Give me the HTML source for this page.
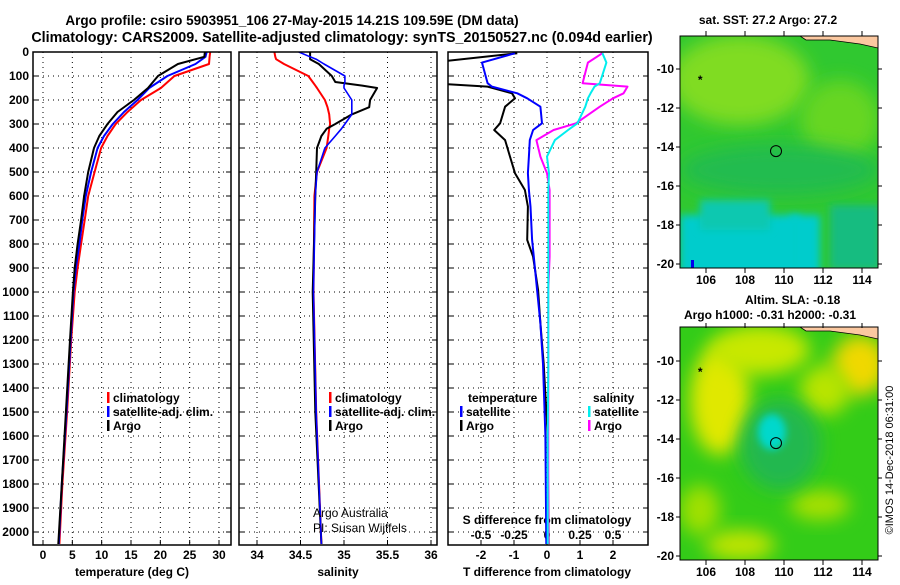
<!DOCTYPE html>
<html><head><meta charset="utf-8"><style>
body{margin:0;background:#fff;}
svg text{font-family:"Liberation Sans",sans-serif;font-weight:bold;font-size:12px;fill:#000;}
</style></head><body>
<svg id="s" width="900" height="580" viewBox="0 0 900 580" xmlns="http://www.w3.org/2000/svg">
<defs>
<filter id="bl" x="-50%" y="-50%" width="200%" height="200%"><feGaussianBlur stdDeviation="9"/></filter>
<filter id="bl2" x="-50%" y="-50%" width="200%" height="200%"><feGaussianBlur stdDeviation="4"/></filter>
<clipPath id="c1"><rect x="33" y="52" width="198" height="493"/></clipPath>
<clipPath id="c2"><rect x="239" y="52" width="198" height="493"/></clipPath>
<clipPath id="c3"><rect x="448" y="52" width="200" height="493"/></clipPath>
<clipPath id="m1"><rect x="680" y="36" width="198" height="232"/></clipPath>
<clipPath id="m2"><rect x="680" y="327" width="198" height="233"/></clipPath>
</defs>
<text x="292" y="25" text-anchor="middle" style="font-size:13.5px">Argo profile: csiro 5903951_106 27-May-2015 14.21S 109.59E (DM data)</text>
<text x="342" y="42" text-anchor="middle" style="font-size:14.3px">Climatology: CARS2009. Satellite-adjusted climatology: synTS_20150527.nc (0.094d earlier)</text>

<!-- map 1 -->
<g clip-path="url(#m1)">
<rect x="680" y="36" width="198" height="232" fill="#30c830"/>
<ellipse cx="740" cy="80" rx="70" ry="45" fill="#80dc20" filter="url(#bl)"/>
<ellipse cx="840" cy="120" rx="40" ry="40" fill="#66d622" filter="url(#bl)"/>
<ellipse cx="780" cy="170" rx="100" ry="25" fill="#22bc50" filter="url(#bl)"/>
<rect x="680" y="215" width="120" height="60" fill="#00cccc" filter="url(#bl2)"/>
<rect x="700" y="200" width="70" height="30" fill="#10c8b0" filter="url(#bl2)"/>
<rect x="790" y="215" width="30" height="60" fill="#00cccc" filter="url(#bl2)"/>
<rect x="830" y="205" width="50" height="65" fill="#18bc80" filter="url(#bl2)"/>
<polygon points="800,36 878,36 878,48 860,44 830,40 806,40" fill="#fbc8a0" stroke="#000" stroke-width="0.8"/>
<rect x="691" y="260" width="3" height="9" fill="#0000ee"/>
</g>
<rect x="680" y="36" width="198" height="232" fill="none" stroke="#000"/>
<text x="768" y="24" text-anchor="middle">sat. SST: 27.2 Argo: 27.2</text>
<!-- map 2 -->
<g clip-path="url(#m2)">
<rect x="680" y="327" width="198" height="233" fill="#33cc18"/>
<ellipse cx="720" cy="400" rx="30" ry="55" fill="#e0e800" filter="url(#bl)"/>
<ellipse cx="760" cy="350" rx="50" ry="25" fill="#c8e800" filter="url(#bl)"/>
<ellipse cx="860" cy="365" rx="28" ry="30" fill="#f0d800" filter="url(#bl)"/>
<ellipse cx="825" cy="390" rx="25" ry="25" fill="#b8e400" filter="url(#bl)"/>
<ellipse cx="740" cy="545" rx="35" ry="15" fill="#c0e400" filter="url(#bl)"/>
<ellipse cx="820" cy="505" rx="30" ry="15" fill="#a8e000" filter="url(#bl)"/>
<ellipse cx="700" cy="510" rx="20" ry="25" fill="#a0e000" filter="url(#bl)"/>
<ellipse cx="780" cy="445" rx="40" ry="45" fill="#22b850" filter="url(#bl)"/>
<ellipse cx="772" cy="432" rx="14" ry="18" fill="#00d8cc" filter="url(#bl2)"/>
<polygon points="800,327 878,327 878,339 860,335 830,331 806,331" fill="#fbc8a0" stroke="#000" stroke-width="0.8"/>
</g>
<rect x="680" y="327" width="198" height="233" fill="none" stroke="#000"/>
<text x="745" y="304">Altim. SLA: -0.18</text>
<text x="770" y="319" text-anchor="middle">Argo h1000: -0.31 h2000: -0.31</text>
<text transform="translate(893,460) rotate(-90)" text-anchor="middle" style="font-weight:normal;font-size:11px">©IMOS 14-Dec-2018 06:31:00</text>
<g id="plots"></g>
</svg>
<script>
// ---- data ----
const tDepth = [0,20,50,100,150,200,250,300,350,400,500,600,700,800,900,1000,1200,1500,1800,2050];
const tArgo  = [27.6,27.5,23,19.6,17.9,15.5,12.7,11,9.6,8.7,7.7,7,6.5,5.9,5.4,5.1,4.6,3.9,3.2,2.6];
const tClim  = [28.5,28.4,28.3,22.4,20.1,16.7,14.4,12.4,11,9.9,8.8,7.7,7.1,6.5,5.9,5.4,4.8,4.1,3.3,2.8];
const tSat   = [27.9,27.7,26,21.2,18.1,16.1,13.8,11.9,10.4,9.3,8.2,7.3,6.7,6.2,5.6,5.2,4.7,4,3.2,2.7];
const sDepth = [0,20,30,50,100,125,140,150,200,230,260,300,320,350,400,500,600,1000,1500,2050];
const sArgo  = [34.61,34.61,34.61,34.71,34.86,34.9,35.21,35.38,35.30,35.29,35.09,34.9,34.8,34.74,34.69,34.68,34.67,34.64,34.67,34.74];
const sClim  = [34.20,34.21,34.22,34.31,34.59,34.64,34.67,34.69,34.78,34.81,34.83,34.84,34.83,34.82,34.80,34.69,34.66,34.65,34.68,34.74];
const sSat   = [34.48,34.61,34.68,34.77,35.01,35.01,35.0,35.0,35.09,35.09,35.09,35.01,34.97,34.9,34.78,34.69,34.67,34.65,34.68,34.74];
const dDepth = [5,44,130,144,172,193,228,297,325,367,436,505,575,644,783,853,992,1130,1300,1600,2050];
const dTArgo = [-0.9,-3.5,-3.5,-1.8,-1.06,-0.97,-1.27,-1.42,-1.6,-1.27,-1.12,-0.97,-0.67,-0.58,-0.6,-0.42,-0.27,-0.2,-0.1,0.02,0.05];
const dTSat  = [-0.97,-1.97,-1.8,-1.67,-0.9,-0.6,-0.2,-0.15,-0.42,-0.52,-0.55,-0.58,-0.55,-0.5,-0.45,-0.4,-0.3,-0.2,-0.12,-0.05,-0.02];
const dSArgo = [0.42,0.31,0.27,0.61,0.58,0.5,0.40,0.22,0.05,-0.08,-0.05,0.0,0.02,0.02,0.02,0.02,0.01,0.01,0.01,0.01,0.01];
const dSSat  = [0.42,0.45,0.40,0.36,0.33,0.31,0.29,0.23,0.16,0.06,0.0,0.015,0.01,0.01,0.01,0.01,0.01,0.01,0.01,0.005,0.005];
const depthTicks = [0,100,200,300,400,500,600,700,800,900,1000,1100,1200,1300,1400,1500,1600,1700,1800,1900,2000];
const tTicks = [0,5,10,15,20,25,30];
const sTicks = [34,34.5,35,35.5,36];
const dTTicks = [-2,-1,0,1,2];
const dSTicks = [-0.5,-0.25,0,0.25,0.5];
const sDiffTickLabels = ["-0.5","-0.25","0","0.25","0.5"];
const latTicks = [-10,-12,-14,-16,-18,-20];
const lonTicks = [106,108,110,112,114];
const argoPos = [109.59,-14.21];
// ---- scales ----
const Y = d => 52 + d*0.24;
const XT = v => 43 + v*(176/30);
const XS = v => 257 + (v-34)*87;
const XD = v => 547 + v*33;
const XDS = v => 547 + v*132;
const LON = v => 706 + (v-106)*19.5;
const LAT1 = v => 69 + (-10-v)*19.5;
const LAT2 = v => 361 + (-10-v)*19.5;
const NS="http://www.w3.org/2000/svg";
const G=document.getElementById('plots');
function mk(tag,at,parent){const e=document.createElementNS(NS,tag);for(const k in at)e.setAttribute(k,at[k]);(parent||G).appendChild(e);return e;}
function txt(x,y,s,anchor,parent){const e=mk('text',{x:x,y:y,'text-anchor':anchor||'start'},parent);e.textContent=s;return e;}
const panels=[{x:33,w:198,clip:'c1',name:'temperature-panel'},{x:239,w:198,clip:'c2',name:'salinity-panel'},{x:448,w:200,clip:'c3',name:'difference-panel'}];
// grids
panels.forEach((p,i)=>{
  const g=mk('g',{});
  
  
  depthTicks.forEach(d=>{ if(d>0) mk('line',{x1:p.x,x2:p.x+p.w,y1:Y(d),y2:Y(d),stroke:'#000','stroke-dasharray':'1,4','stroke-width':1},g);
    mk('line',{x1:p.x,x2:p.x+5,y1:Y(d),y2:Y(d),stroke:'#000'},g); mk('line',{x1:p.x+p.w-5,x2:p.x+p.w,y1:Y(d),y2:Y(d),stroke:'#000'},g);});
  const xs = i==0? tTicks.map(XT) : i==1? sTicks.map(XS) : dTTicks.map(XD);
  xs.forEach(x=>{mk('line',{x1:x,x2:x,y1:52,y2:545,stroke:'#000','stroke-dasharray':'1,4'},g);
    mk('line',{x1:x,x2:x,y1:540,y2:545,stroke:'#000'},g);});
});
// y labels
depthTicks.forEach(d=>{const t=txt(29,Y(d)+4,String(d),'end');
  
  });
tTicks.forEach(v=>{const t=txt(XT(v),559,String(v),'middle');
  
  });
sTicks.forEach(v=>{const t=txt(XS(v),559,String(v),'middle');
  
  });
dTTicks.forEach(v=>{const t=txt(XD(v),559,String(v),'middle');
  
  });
dSTicks.forEach((v,i)=>{const t=txt(XDS(v),539,sDiffTickLabels[i],'middle');
  
  });
[['temperature (deg C)',132,'temperature-axis-title'],['salinity',338,'salinity-axis-title'],['T difference from climatology',547,'t-diff-axis-title']].forEach(a=>{
  const t=txt(a[1],576,a[0],'middle');
  
  });
{const t=txt(547,524,'S difference from climatology','middle');

}
// lines
function line(depths,vals,xf,color,clip,name,w){
  const pts=depths.map((d,i)=>xf(vals[i]).toFixed(1)+','+Y(d).toFixed(1)).join(' ');
  const e=mk('polyline',{points:pts,fill:'none',stroke:color,'stroke-width':w||2,'clip-path':'url(#'+clip+')','stroke-linejoin':'round'});
  
  
}
line(tDepth,tClim,XT,'#ff0000','c1','temp-climatology-line');
line(tDepth,tSat,XT,'#0000ff','c1','temp-satellite-line');
line(tDepth,tArgo,XT,'#000000','c1','temp-argo-line');
line(sDepth,sClim,XS,'#ff0000','c2','sal-climatology-line');
line(sDepth,sArgo,XS,'#000000','c2','sal-argo-line');
line(sDepth,sSat,XS,'#0000ff','c2','sal-satellite-line',1.6);
line(dDepth,dTArgo,XD,'#000000','c3','tdiff-argo-line');
line(dDepth,dTSat,XD,'#0000ff','c3','tdiff-satellite-line');
line(dDepth,dSArgo,XDS,'#ff00ff','c3','sdiff-argo-line');
line(dDepth,dSSat,XDS,'#00eeee','c3','sdiff-satellite-line');
// frames
panels.forEach(p=>{const r=mk('rect',{x:p.x,y:52,width:p.w,height:493,fill:'none',stroke:'#000','stroke-width':1.5});
  
  });
// legends
function leg(x,y,color,label){
  const g=mk('g',{});
  
  
  mk('rect',{x:x,y:y-10,width:2.5,height:11,fill:color},g);
  txt(x+6,y,label,'start',g);
}
leg(107,402,'#ff0000','climatology');leg(107,416,'#0000ff','satellite-adj. clim.');leg(107,430,'#000000','Argo');
leg(329,402,'#ff0000','climatology');leg(329,416,'#0000ff','satellite-adj. clim.');leg(329,430,'#000000','Argo');
{const t=txt(468,402,'temperature');}
leg(460,416,'#0000ff','satellite');leg(460,430,'#000000','Argo');
{const t=txt(593,402,'salinity');}
leg(588,416,'#00eeee','satellite');leg(588,430,'#ff00ff','Argo');
[['Argo Australia',517],['PI: Susan Wijffels',532]].forEach(a=>{const t=txt(313,a[1],a[0]);t.setAttribute('style','font-weight:normal');
  
  });
// map axes
[[LAT1,268],[LAT2,560]].forEach((m,mi)=>{
  latTicks.forEach(v=>{const y=m[0](v);
    mk('line',{x1:878,x2:882,y1:y,y2:y,stroke:'#000'});
    mk('line',{x1:676,x2:680,y1:y,y2:y,stroke:'#000'});
    const t=txt(674,y+4,String(v),'end');
    
    });
  lonTicks.forEach(v=>{const x=LON(v); mk('line',{x1:x,x2:x,y1:m[1],y2:m[1]+5,stroke:'#000'});
    mk('line',{x1:x,x2:x,y1:m[1]-237,y2:m[1]-232,stroke:'#000'});
    const t=txt(x,m[1]+16,String(v),'middle');
    
    });
  const c=mk('circle',{cx:LON(argoPos[0]),cy:m[0](argoPos[1]),r:5.5,fill:'none',stroke:'#000','stroke-width':1});
  
  
  const s=txt(LON(105.7),m[0](-10.5)+5,'*','middle');
  
  
});
</script>
</body></html>
